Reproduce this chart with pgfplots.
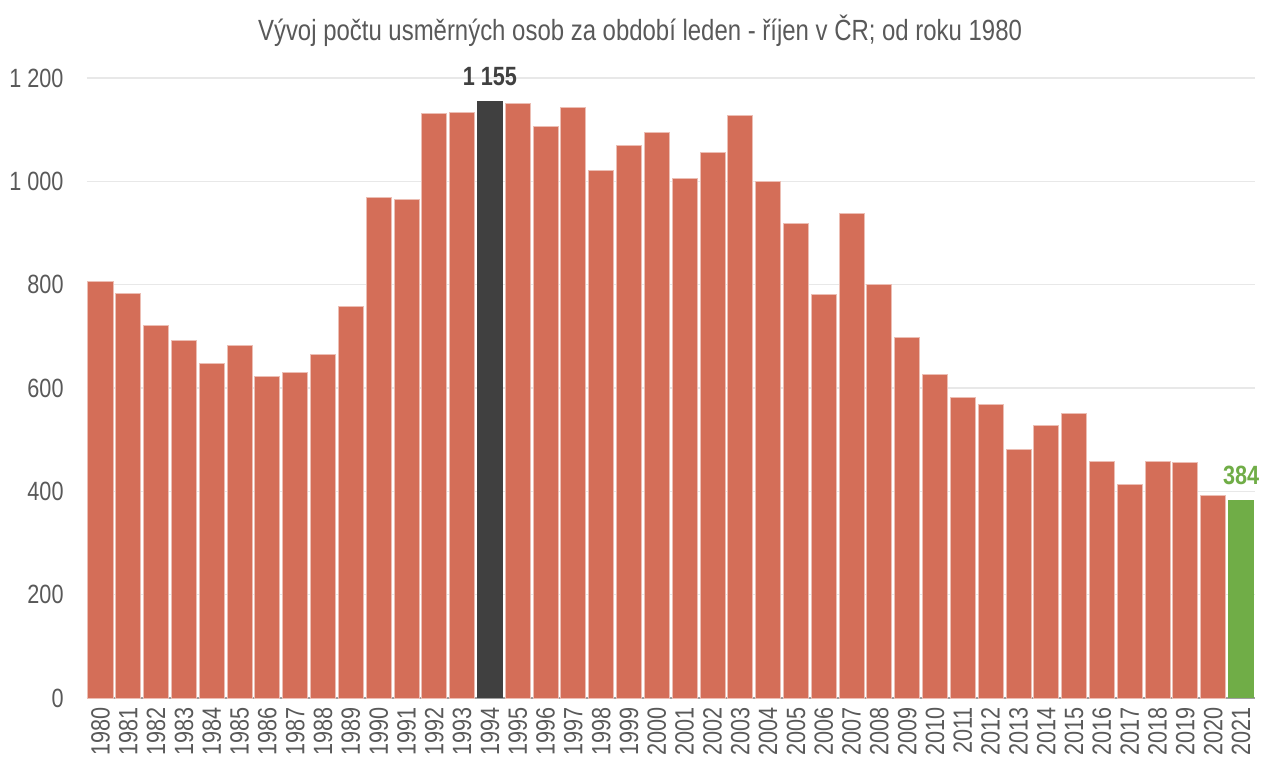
\documentclass[border=0pt]{standalone}
\usepackage{fontspec}
\setmainfont{Liberation Sans}[FakeStretch=0.82]
\usepackage{pgfplots}
\pgfplotsset{compat=1.18}

\definecolor{barred}{HTML}{D46E58}
\definecolor{bardark}{HTML}{404040}
\definecolor{bargreen}{HTML}{70AD47}
\definecolor{txtgray}{HTML}{595959}
\definecolor{gridgray}{HTML}{E8E8E8}
\newcommand\chartfont{\fontsize{13.2bp}{16bp}\selectfont}

\begin{document}
\begin{tikzpicture}
\path[use as bounding box] (-43.3bp,-33.5bp) rectangle (588.2bp,349bp);
\begin{axis}[
    at={(0,0)}, anchor=south west,
    scale only axis,
    width=584.2bp, height=310bp,
    ybar, bar width=0.9,
    xmin=1979.5, xmax=2021.5,
    ymin=0, ymax=1200,
    xtick={1980,...,2021},
    ytick={0,200,...,1200},
    ymajorgrids,
    grid style={gridgray, line width=0.6bp},
    axis x line*=bottom, axis y line*=left,
    y axis line style={draw=none},
    x axis line style={draw=gray!75, line width=0.8bp},
    major tick length=0pt,
    clip=false,
    /pgf/number format/assume math mode=true,
    /pgf/number format/1000 sep={\ },
    tick label style={font=\chartfont, text=txtgray},
    xticklabel style={rotate=90, anchor=east, xshift=-1bp, /pgf/number format/1000 sep={}},
    yticklabel style={xshift=-8bp},
    title={Vývoj počtu usměrných osob za období leden - říjen v ČR; od roku 1980},
    title style={at={(0.4737,1)}, anchor=base, yshift=13bp,
        font=\fontsize{14.6bp}{17bp}\selectfont, text=txtgray},
]

% all other years
\addplot[fill=barred, draw=white!55!barred, line width=0.5bp, bar shift=0pt] coordinates {
    (1980, 806) (1981, 783) (1982, 720) (1983, 691) (1984, 647)
    (1985, 683) (1986, 622) (1987, 630) (1988, 665) (1989, 758)
    (1990, 969) (1991, 965) (1992, 1132) (1993, 1133)
    (1995, 1150) (1996, 1107) (1997, 1142) (1998, 1020) (1999, 1070)
    (2000, 1094) (2001, 1006) (2002, 1055) (2003, 1127) (2004, 1000)
    (2005, 918) (2006, 781) (2007, 937) (2008, 801) (2009, 698)
    (2010, 626) (2011, 581) (2012, 569) (2013, 480) (2014, 527)
    (2015, 550) (2016, 457) (2017, 414) (2018, 458) (2019, 456)
    (2020, 392)
};

% maximum
\addplot[fill=bardark, draw=none, bar shift=0pt, bar width=0.92,
    nodes near coords,
    every node near coord/.append style={font=\chartfont\bfseries, text=bardark, yshift=4bp}]
    coordinates {(1994, 1155)};

% current year
\addplot[fill=bargreen, draw=none, bar shift=0pt, bar width=0.92,
    nodes near coords,
    every node near coord/.append style={font=\chartfont\bfseries, text=bargreen, yshift=4bp}]
    coordinates {(2021, 384)};

\end{axis}
\end{tikzpicture}
\end{document}
